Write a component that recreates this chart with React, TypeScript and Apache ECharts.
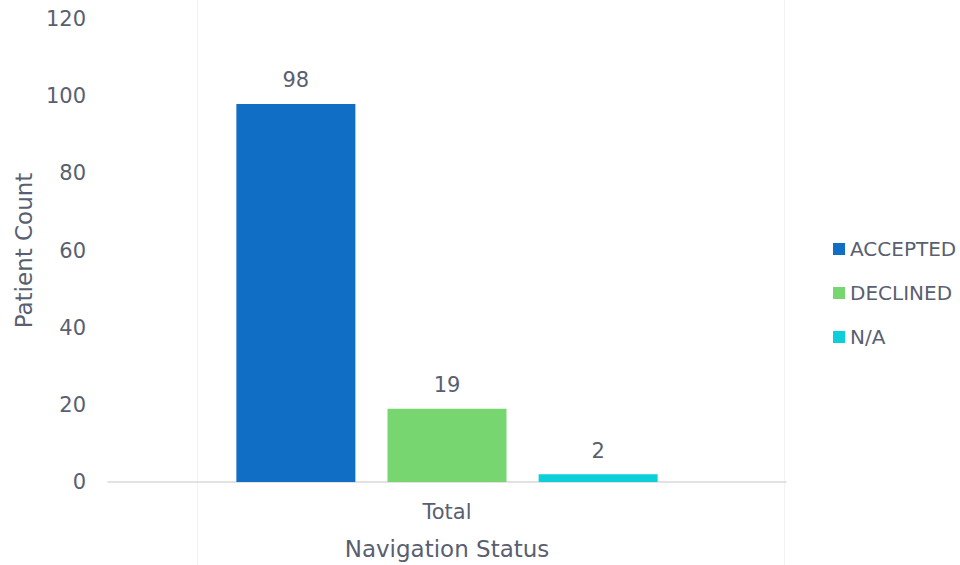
import React, { useEffect, useRef } from "react";
import * as echarts from "echarts";

const categories = ["Total"];
const seriesNames = ["ACCEPTED", "DECLINED", "N/A"];
const accepted = [98];
const declined = [19];
const na = [2];
const colors = ["#106EC4", "#77D670", "#0DCFD9"];

const FONT = "'DejaVu Sans', sans-serif";
const TXT = "#595F70";

export default function App() {
  const ref = useRef<HTMLDivElement>(null);
  useEffect(() => {
    const chart = echarts.init(ref.current!, null, { renderer: "svg" });
    const values = [accepted, declined, na];
    chart.setOption({
      animation: false,
      textStyle: { fontFamily: FONT },
      grid: { left: 108, right: 174, top: 19, bottom: 74, containLabel: false },
      legend: {
        orient: "vertical",
        left: 828,
        top: 234,
        itemWidth: 12,
        itemHeight: 12,
        itemGap: 24,
        icon: "rect",
        data: seriesNames,
        textStyle: { color: TXT, fontSize: 20, fontFamily: FONT },
      },
      xAxis: {
        type: "category",
        data: categories,
        name: "Navigation Status",
        nameLocation: "middle",
        nameGap: 55,
        nameTextStyle: { color: TXT, fontSize: 23, fontFamily: FONT },
        axisLine: { lineStyle: { color: "#d9d9d9", width: 1.5 } },
        axisTick: { show: false },
        axisLabel: { color: TXT, fontSize: 21, margin: 19, fontFamily: FONT },
      },
      yAxis: {
        type: "value",
        min: 0,
        max: 120,
        interval: 20,
        name: "Patient Count",
        nameLocation: "middle",
        nameGap: 71,
        nameTextStyle: { color: TXT, fontSize: 23, fontFamily: FONT },
        axisLine: { show: false },
        axisTick: { show: false },
        splitLine: { show: false },
        axisLabel: { color: TXT, fontSize: 21, margin: 22, fontFamily: FONT },
      },
      graphic: [
        { type: "line", shape: { x1: 197.5, y1: 0, x2: 197.5, y2: 565 }, style: { stroke: "#f3f3f3", lineWidth: 1 }, z: -1 },
        { type: "line", shape: { x1: 784.5, y1: 0, x2: 784.5, y2: 565 }, style: { stroke: "#f3f3f3", lineWidth: 1 }, z: -1 },
      ],
      series: seriesNames.map((name, i) => ({
        type: "bar",
        name,
        data: values[i],
        barWidth: 119,
        barGap: "27%",
        itemStyle: { color: colors[i] },
        label: { show: true, position: "top", distance: 13, color: TXT, fontSize: 21, fontFamily: FONT },
      })),
    });
    return () => chart.dispose();
  }, []);
  return <div ref={ref} style={{ width: 960, height: 565, position: "absolute", left: 0, top: 0 }} />;
}
